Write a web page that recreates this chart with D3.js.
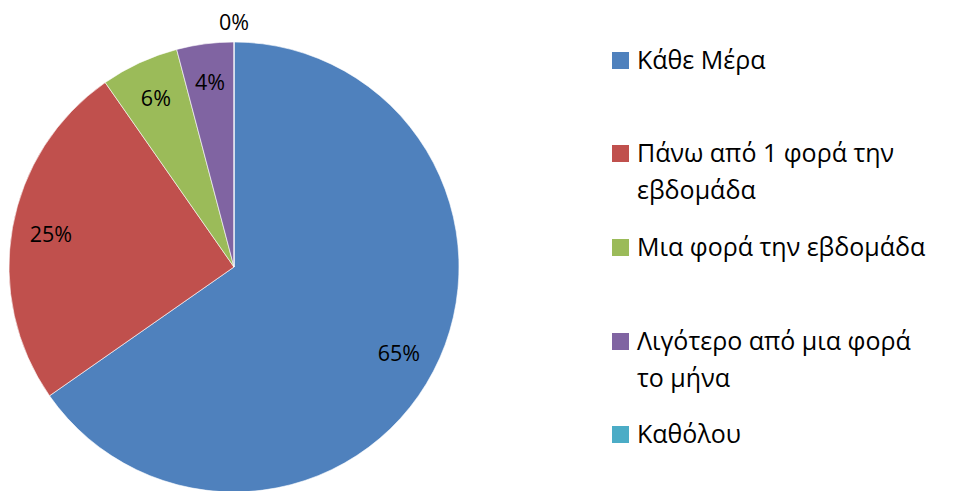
<!DOCTYPE html>
<html><head><meta charset="utf-8">
<script src="https://cdn.jsdelivr.net/npm/d3@7"></script>
<style>body{margin:0;background:#fff}svg{display:block}text{font-family:"Open Sans","Noto Sans",sans-serif}</style>
</head><body><svg id="c" width="970" height="491"></svg>
<script>
const categories = ["Κάθε Μέρα","Πάνω από 1 φορά την εβδομάδα","Μια φορά την εβδομάδα","Λιγότερο από μια φορά το μήνα","Καθόλου"];
const legendLines = [["Κάθε Μέρα"],["Πάνω από 1 φορά την","εβδομάδα"],["Μια φορά την εβδομάδα"],["Λιγότερο από μια φορά","το μήνα"],["Καθόλου"]];
const values = [65.3, 25.0, 5.6, 4.1, 0];
const valueLabels = ["65%","25%","6%","4%","0%"];
const colors = ["#4F81BD","#C0504D","#9BBB59","#8064A2","#4BACC6"];

const svg = d3.select("#c");
const cx = 234, cy = 267, R = 225;
const pie = d3.pie().sort(null).value(d => d)(values);
const arc = d3.arc().innerRadius(0).outerRadius(R);
const g = svg.append("g").attr("transform", `translate(${cx},${cy})`);
g.selectAll("path").data(pie).enter().append("path")
  .attr("d", arc).attr("fill", (d,i) => colors[i])
  .attr("stroke", "#fff").attr("stroke-width", 0.6);

const labelArc = d3.arc().innerRadius(186).outerRadius(186);
const outArc = d3.arc().innerRadius(245).outerRadius(245);
g.selectAll("text.v").data(pie).enter().append("text").attr("class","v")
  .attr("transform", (d,i) => `translate(${(d.value === 0 ? outArc : labelArc).centroid(d)})`)
  .attr("text-anchor","middle").attr("dy","0.35em")
  .attr("font-size", 21.5).attr("fill","#000")
  .text((d,i) => valueLabels[i]);

const legendY = [60, 153, 247, 341, 434];
const lg = svg.append("g");
legendLines.forEach((lines, i) => {
  lg.append("rect").attr("x", 612).attr("y", legendY[i] - 8).attr("width", 17).attr("height", 17).attr("fill", colors[i]);
  lines.forEach((t, j) => {
    lg.append("text").attr("x", 637).attr("y", legendY[i] + j * 37).attr("dy","0.35em")
      .attr("font-size", 25).attr("fill","#000").text(t);
  });
});
</script></body></html>
